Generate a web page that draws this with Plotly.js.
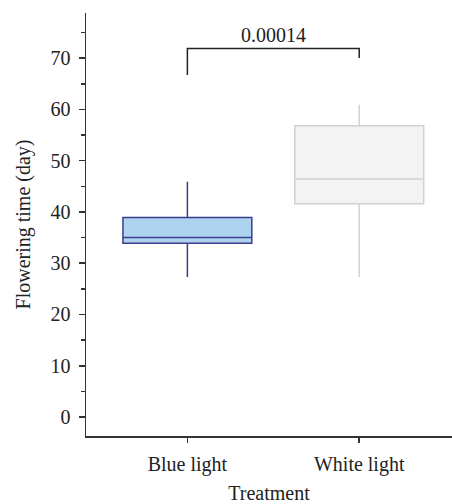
<!DOCTYPE html>
<html>
<head>
<meta charset="utf-8">
<script src="https://cdn.plot.ly/plotly-3.0.1.min.js"></script>
<style>html,body{margin:0;padding:0;background:#fff;}#chart{width:452px;height:504px;}</style>
</head>
<body>
<div id="chart"></div>
<script>
// Data
const categories = ['Blue light', 'White light'];
const lowerWhisker = [27.3, 27.3];
const q1Values = [33.9, 41.6];
const medianValues = [35.0, 46.4];
const q3Values = [38.9, 56.8];
const upperWhisker = [45.9, 60.9];
const boxFills = ['#aed3ef', '#f3f3f3'];
const boxLines = ['#3d3d8f', '#d2d2d2'];
// Significance bracket: left leg bottom, top, top, right leg bottom
const bracketX = ['Blue light', 'Blue light', 'White light', 'White light'];
const bracketY = [66.7, 71.9, 71.9, 70.0];
const pValueText = '0.00014';

const FONT = 'Liberation Serif, Times New Roman, serif';
const FS = 20;

const traces = categories.map((c, i) => ({
  type: 'box',
  name: c,
  x: [c],
  q1: [q1Values[i]],
  median: [medianValues[i]],
  q3: [q3Values[i]],
  lowerfence: [lowerWhisker[i]],
  upperfence: [upperWhisker[i]],
  fillcolor: boxFills[i],
  line: {color: boxLines[i], width: 1.5},
  whiskerwidth: 0,
  width: 0.75,
  boxpoints: false,
  hoverinfo: 'skip'
}));

traces.push({
  type: 'scatter',
  mode: 'lines',
  x: bracketX,
  y: bracketY,
  line: {color: '#222', width: 1.5},
  hoverinfo: 'skip',
  showlegend: false
});

const layout = {
  width: 452,
  height: 504,
  margin: {l: 86, r: 0, t: 13, b: 68},
  paper_bgcolor: '#fff',
  plot_bgcolor: '#fff',
  showlegend: false,
  font: {family: FONT, size: FS, color: '#222'},
  xaxis: {
    type: 'category',
    categoryarray: categories,
    range: [-0.59, 1.54],
    showline: true,
    linecolor: '#333',
    linewidth: 1.5,
    ticks: 'outside',
    ticklen: 5,
    tickwidth: 1.5,
    tickcolor: '#333',
    ticklabelstandoff: 4,
    showgrid: false,
    zeroline: false,
    tickfont: {family: FONT, size: FS, color: '#222'},
    title: {text: 'Treatment', font: {family: FONT, size: FS, color: '#222'}, standoff: 12}
  },
  yaxis: {
    range: [-3.7, 78.8],
    tickvals: [0, 10, 20, 30, 40, 50, 60, 70],
    showline: true,
    linecolor: '#333',
    linewidth: 1.5,
    ticks: 'outside',
    ticklen: 6,
    tickwidth: 1.5,
    tickcolor: '#333',
    ticklabelstandoff: 4,
    minor: {ticks: 'outside', tickvals: [5, 15, 25, 35, 45, 55, 65, 75], ticklen: 4, tickwidth: 1.5, tickcolor: '#333', showgrid: false},
    showgrid: false,
    zeroline: false,
    tickfont: {family: FONT, size: FS, color: '#222'},
    title: {text: 'Flowering time (day)', font: {family: FONT, size: FS, color: '#222'}, standoff: 14}
  },
  annotations: [{
    x: 0.5,
    xref: 'x',
    y: bracketY[1],
    yref: 'y',
    yanchor: 'bottom',
    yshift: 0,
    text: pValueText,
    showarrow: false,
    font: {family: FONT, size: FS, color: '#222'}
  }]
};

Plotly.newPlot('chart', traces, layout, {displayModeBar: false, staticPlot: true});
</script>
</body>
</html>
